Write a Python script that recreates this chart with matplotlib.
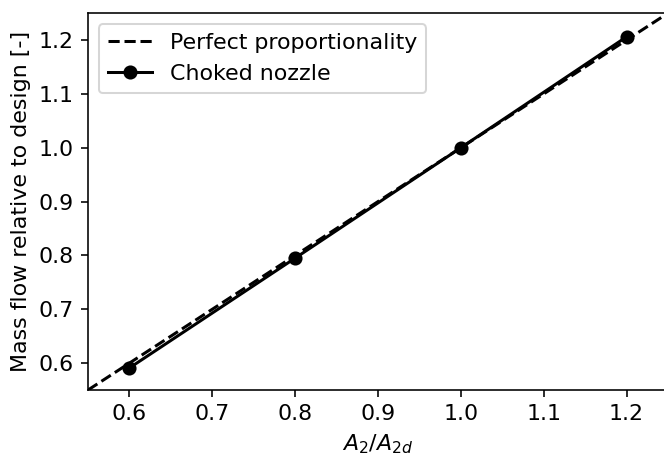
import matplotlib
matplotlib.use("Agg")
import matplotlib.pyplot as plt

# area ratio vs. mass flow (relative to design)
area_ratio = [0.6, 0.8, 1.0, 1.2]
mass_flow = [0.591, 0.795, 1.0, 1.206]

plt.rcParams['font.size'] = 11

fig = plt.figure(figsize=(664 / 145, 453 / 145), dpi=145)
ax = fig.add_subplot(111)
fig.subplots_adjust(left=0.1325, right=1.006, top=0.971, bottom=0.139)

ax.axline((0, 0), slope=1, color='k', linestyle='--', label='Perfect proportionality')
ax.plot(area_ratio, mass_flow, 'k-o', label='Choked nozzle')

ax.set_xlim(0.55, 1.25)
ax.set_ylim(0.55, 1.25)
ax.set_xlabel(r'$A_2/A_{2d}$')
ax.set_ylabel('Mass flow relative to design [-]')
ax.legend(loc='upper left')

fig.savefig('out.png', dpi=145)
